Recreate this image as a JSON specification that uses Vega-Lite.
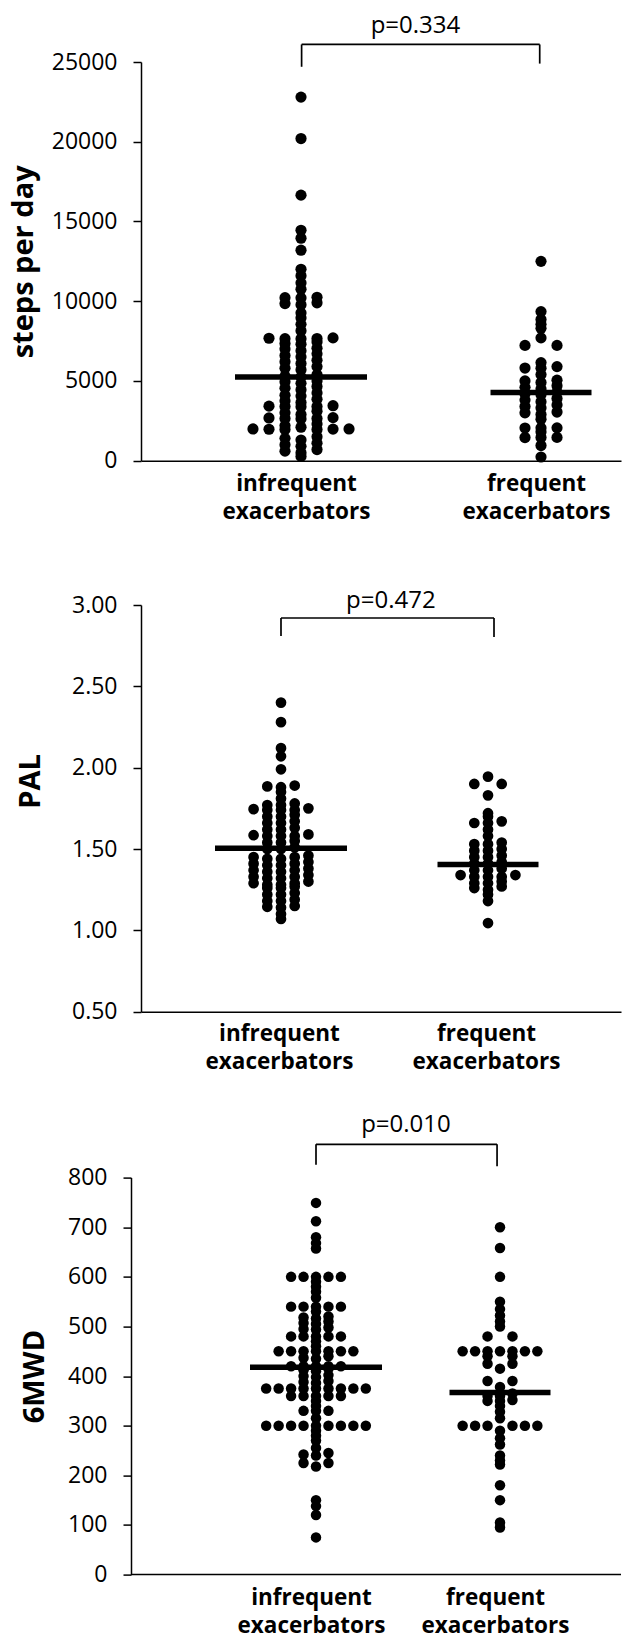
{
  "$schema": "https://vega.github.io/schema/vega-lite/v6.json",
  "padding": {"left": 9, "top": 14, "right": 0, "bottom": 0},
  "background": "white",
  "bounds": "flush",
  "spacing": 144,
  "datasets": {
    "steps": [
      {"group":"infrequent","value":22800},{"group":"infrequent","value":20200},{"group":"infrequent","value":16650},{"group":"infrequent","value":14450},{"group":"infrequent","value":13950},{"group":"infrequent","value":13200},{"group":"infrequent","value":12000},{"group":"infrequent","value":11600},{"group":"infrequent","value":11150},{"group":"infrequent","value":10750},
      {"group":"infrequent","value":10200},{"group":"infrequent","value":10220},{"group":"infrequent","value":10250},
      {"group":"infrequent","value":9780},{"group":"infrequent","value":9850},{"group":"infrequent","value":9900},
      {"group":"infrequent","value":9260},{"group":"infrequent","value":8950},{"group":"infrequent","value":8550},{"group":"infrequent","value":8150},
      {"group":"infrequent","value":7650},{"group":"infrequent","value":7650},{"group":"infrequent","value":7660},{"group":"infrequent","value":7680},{"group":"infrequent","value":7700},
      {"group":"infrequent","value":7300},{"group":"infrequent","value":7350},{"group":"infrequent","value":7450},
      {"group":"infrequent","value":6900},{"group":"infrequent","value":7000},{"group":"infrequent","value":7050},
      {"group":"infrequent","value":6500},{"group":"infrequent","value":6600},{"group":"infrequent","value":6700},
      {"group":"infrequent","value":6100},{"group":"infrequent","value":6200},{"group":"infrequent","value":6300},
      {"group":"infrequent","value":5700},{"group":"infrequent","value":5800},{"group":"infrequent","value":5900},
      {"group":"infrequent","value":5250},{"group":"infrequent","value":5300},{"group":"infrequent","value":5400},
      {"group":"infrequent","value":4850},{"group":"infrequent","value":4950},{"group":"infrequent","value":5000},
      {"group":"infrequent","value":4450},{"group":"infrequent","value":4550},{"group":"infrequent","value":4650},
      {"group":"infrequent","value":4050},{"group":"infrequent","value":4100},{"group":"infrequent","value":4250},
      {"group":"infrequent","value":3650},{"group":"infrequent","value":3750},{"group":"infrequent","value":3850},
      {"group":"infrequent","value":3380},{"group":"infrequent","value":3400},{"group":"infrequent","value":3400},{"group":"infrequent","value":3420},{"group":"infrequent","value":3450},
      {"group":"infrequent","value":2900},{"group":"infrequent","value":3000},{"group":"infrequent","value":3100},
      {"group":"infrequent","value":2620},{"group":"infrequent","value":2650},{"group":"infrequent","value":2650},{"group":"infrequent","value":2680},{"group":"infrequent","value":2700},
      {"group":"infrequent","value":2100},{"group":"infrequent","value":2200},{"group":"infrequent","value":2300},
      {"group":"infrequent","value":1950},{"group":"infrequent","value":1960},{"group":"infrequent","value":1970},{"group":"infrequent","value":1980},{"group":"infrequent","value":1990},{"group":"infrequent","value":1990},
      {"group":"infrequent","value":1300},{"group":"infrequent","value":1400},{"group":"infrequent","value":1500},
      {"group":"infrequent","value":900},{"group":"infrequent","value":1000},{"group":"infrequent","value":1100},
      {"group":"infrequent","value":500},{"group":"infrequent","value":600},{"group":"infrequent","value":700},
      {"group":"infrequent","value":270},
      {"group":"frequent","value":12500},{"group":"frequent","value":9350},{"group":"frequent","value":8850},{"group":"frequent","value":8550},{"group":"frequent","value":8300},{"group":"frequent","value":7700},
      {"group":"frequent","value":7230},{"group":"frequent","value":7230},{"group":"frequent","value":6150},
      {"group":"frequent","value":5800},{"group":"frequent","value":5810},{"group":"frequent","value":5900},{"group":"frequent","value":5400},
      {"group":"frequent","value":4900},{"group":"frequent","value":5000},{"group":"frequent","value":5050},
      {"group":"frequent","value":4500},{"group":"frequent","value":4600},{"group":"frequent","value":4700},
      {"group":"frequent","value":4150},{"group":"frequent","value":4200},{"group":"frequent","value":4300},
      {"group":"frequent","value":3700},{"group":"frequent","value":3800},{"group":"frequent","value":3900},
      {"group":"frequent","value":3300},{"group":"frequent","value":3400},{"group":"frequent","value":3500},
      {"group":"frequent","value":2900},{"group":"frequent","value":3000},{"group":"frequent","value":3050},
      {"group":"frequent","value":2600},
      {"group":"frequent","value":2050},{"group":"frequent","value":2050},{"group":"frequent","value":2060},
      {"group":"frequent","value":1800},
      {"group":"frequent","value":1450},{"group":"frequent","value":1450},{"group":"frequent","value":1460},
      {"group":"frequent","value":950},{"group":"frequent","value":230}
    ],
    "pal": [
      {"group":"infrequent","value":2.40},{"group":"infrequent","value":2.28},{"group":"infrequent","value":2.12},{"group":"infrequent","value":2.07},{"group":"infrequent","value":1.99},
      {"group":"infrequent","value":1.88},{"group":"infrequent","value":1.885},{"group":"infrequent","value":1.89},
      {"group":"infrequent","value":1.85},{"group":"infrequent","value":1.81},
      {"group":"infrequent","value":1.77},{"group":"infrequent","value":1.77},{"group":"infrequent","value":1.78},
      {"group":"infrequent","value":1.74},{"group":"infrequent","value":1.74},{"group":"infrequent","value":1.74},{"group":"infrequent","value":1.745},{"group":"infrequent","value":1.75},
      {"group":"infrequent","value":1.70},{"group":"infrequent","value":1.70},{"group":"infrequent","value":1.71},
      {"group":"infrequent","value":1.66},{"group":"infrequent","value":1.66},{"group":"infrequent","value":1.67},
      {"group":"infrequent","value":1.62},{"group":"infrequent","value":1.62},{"group":"infrequent","value":1.63},
      {"group":"infrequent","value":1.58},{"group":"infrequent","value":1.58},{"group":"infrequent","value":1.58},{"group":"infrequent","value":1.585},{"group":"infrequent","value":1.59},
      {"group":"infrequent","value":1.54},{"group":"infrequent","value":1.54},{"group":"infrequent","value":1.55},
      {"group":"infrequent","value":1.50},{"group":"infrequent","value":1.50},{"group":"infrequent","value":1.51},
      {"group":"infrequent","value":1.44},{"group":"infrequent","value":1.44},{"group":"infrequent","value":1.45},{"group":"infrequent","value":1.45},{"group":"infrequent","value":1.46},
      {"group":"infrequent","value":1.40},{"group":"infrequent","value":1.40},{"group":"infrequent","value":1.41},{"group":"infrequent","value":1.41},{"group":"infrequent","value":1.42},
      {"group":"infrequent","value":1.36},{"group":"infrequent","value":1.36},{"group":"infrequent","value":1.37},{"group":"infrequent","value":1.37},{"group":"infrequent","value":1.38},
      {"group":"infrequent","value":1.32},{"group":"infrequent","value":1.32},{"group":"infrequent","value":1.33},{"group":"infrequent","value":1.33},{"group":"infrequent","value":1.34},
      {"group":"infrequent","value":1.28},{"group":"infrequent","value":1.28},{"group":"infrequent","value":1.29},{"group":"infrequent","value":1.29},{"group":"infrequent","value":1.30},
      {"group":"infrequent","value":1.26},{"group":"infrequent","value":1.26},{"group":"infrequent","value":1.27},
      {"group":"infrequent","value":1.22},{"group":"infrequent","value":1.22},{"group":"infrequent","value":1.23},
      {"group":"infrequent","value":1.18},{"group":"infrequent","value":1.18},{"group":"infrequent","value":1.19},
      {"group":"infrequent","value":1.14},{"group":"infrequent","value":1.145},{"group":"infrequent","value":1.15},
      {"group":"infrequent","value":1.10},{"group":"infrequent","value":1.07},
      {"group":"frequent","value":1.945},{"group":"frequent","value":1.90},{"group":"frequent","value":1.90},{"group":"frequent","value":1.83},
      {"group":"frequent","value":1.72},{"group":"frequent","value":1.70},
      {"group":"frequent","value":1.66},{"group":"frequent","value":1.66},{"group":"frequent","value":1.67},
      {"group":"frequent","value":1.62},{"group":"frequent","value":1.58},
      {"group":"frequent","value":1.53},{"group":"frequent","value":1.53},{"group":"frequent","value":1.54},
      {"group":"frequent","value":1.49},{"group":"frequent","value":1.49},{"group":"frequent","value":1.50},
      {"group":"frequent","value":1.45},{"group":"frequent","value":1.45},{"group":"frequent","value":1.46},
      {"group":"frequent","value":1.41},{"group":"frequent","value":1.41},{"group":"frequent","value":1.42},
      {"group":"frequent","value":1.37},{"group":"frequent","value":1.37},{"group":"frequent","value":1.38},
      {"group":"frequent","value":1.33},{"group":"frequent","value":1.33},{"group":"frequent","value":1.33},{"group":"frequent","value":1.34},{"group":"frequent","value":1.34},
      {"group":"frequent","value":1.29},{"group":"frequent","value":1.29},{"group":"frequent","value":1.30},
      {"group":"frequent","value":1.25},{"group":"frequent","value":1.26},{"group":"frequent","value":1.27},
      {"group":"frequent","value":1.22},{"group":"frequent","value":1.18},{"group":"frequent","value":1.045}
    ],
    "mwd": [
      {"group":"infrequent","value":749},{"group":"infrequent","value":712},{"group":"infrequent","value":680},{"group":"infrequent","value":668},{"group":"infrequent","value":657},
      {"group":"infrequent","value":600},{"group":"infrequent","value":600},{"group":"infrequent","value":600},{"group":"infrequent","value":600},{"group":"infrequent","value":600},
      {"group":"infrequent","value":590},{"group":"infrequent","value":580},{"group":"infrequent","value":570},{"group":"infrequent","value":558},
      {"group":"infrequent","value":540},{"group":"infrequent","value":540},{"group":"infrequent","value":540},{"group":"infrequent","value":540},{"group":"infrequent","value":540},
      {"group":"infrequent","value":530},
      {"group":"infrequent","value":516},{"group":"infrequent","value":518},{"group":"infrequent","value":520},
      {"group":"infrequent","value":505},{"group":"infrequent","value":507},{"group":"infrequent","value":510},
      {"group":"infrequent","value":494},{"group":"infrequent","value":495},{"group":"infrequent","value":498},
      {"group":"infrequent","value":480},{"group":"infrequent","value":480},{"group":"infrequent","value":480},{"group":"infrequent","value":480},{"group":"infrequent","value":480},
      {"group":"infrequent","value":470},{"group":"infrequent","value":460},
      {"group":"infrequent","value":450},{"group":"infrequent","value":450},{"group":"infrequent","value":450},{"group":"infrequent","value":450},{"group":"infrequent","value":450},{"group":"infrequent","value":450},{"group":"infrequent","value":450},
      {"group":"infrequent","value":435},{"group":"infrequent","value":437},{"group":"infrequent","value":440},
      {"group":"infrequent","value":420},{"group":"infrequent","value":420},{"group":"infrequent","value":420},{"group":"infrequent","value":420},{"group":"infrequent","value":420},
      {"group":"infrequent","value":410},{"group":"infrequent","value":412},{"group":"infrequent","value":415},
      {"group":"infrequent","value":398},{"group":"infrequent","value":400},{"group":"infrequent","value":402},
      {"group":"infrequent","value":386},{"group":"infrequent","value":388},{"group":"infrequent","value":390},
      {"group":"infrequent","value":375},{"group":"infrequent","value":375},{"group":"infrequent","value":375},{"group":"infrequent","value":375},{"group":"infrequent","value":375},{"group":"infrequent","value":375},{"group":"infrequent","value":375},{"group":"infrequent","value":375},{"group":"infrequent","value":375},
      {"group":"infrequent","value":360},{"group":"infrequent","value":360},{"group":"infrequent","value":360},{"group":"infrequent","value":360},{"group":"infrequent","value":360},
      {"group":"infrequent","value":350},{"group":"infrequent","value":340},
      {"group":"infrequent","value":330},{"group":"infrequent","value":330},{"group":"infrequent","value":330},
      {"group":"infrequent","value":315},
      {"group":"infrequent","value":300},{"group":"infrequent","value":300},{"group":"infrequent","value":300},{"group":"infrequent","value":300},{"group":"infrequent","value":300},{"group":"infrequent","value":300},{"group":"infrequent","value":300},{"group":"infrequent","value":300},{"group":"infrequent","value":300},
      {"group":"infrequent","value":290},{"group":"infrequent","value":280},{"group":"infrequent","value":270},{"group":"infrequent","value":255},
      {"group":"infrequent","value":240},{"group":"infrequent","value":242},{"group":"infrequent","value":245},
      {"group":"infrequent","value":218},{"group":"infrequent","value":225},{"group":"infrequent","value":225},
      {"group":"infrequent","value":150},{"group":"infrequent","value":138},{"group":"infrequent","value":120},{"group":"infrequent","value":75},
      {"group":"frequent","value":700},{"group":"frequent","value":658},{"group":"frequent","value":600},
      {"group":"frequent","value":550},{"group":"frequent","value":535},{"group":"frequent","value":522},{"group":"frequent","value":510},{"group":"frequent","value":500},
      {"group":"frequent","value":480},{"group":"frequent","value":480},
      {"group":"frequent","value":450},{"group":"frequent","value":450},{"group":"frequent","value":450},{"group":"frequent","value":450},{"group":"frequent","value":450},{"group":"frequent","value":450},{"group":"frequent","value":450},
      {"group":"frequent","value":440},{"group":"frequent","value":440},{"group":"frequent","value":425},{"group":"frequent","value":425},
      {"group":"frequent","value":415},
      {"group":"frequent","value":390},{"group":"frequent","value":390},{"group":"frequent","value":378},
      {"group":"frequent","value":360},{"group":"frequent","value":360},{"group":"frequent","value":365},
      {"group":"frequent","value":350},{"group":"frequent","value":350},{"group":"frequent","value":352},
      {"group":"frequent","value":340},{"group":"frequent","value":328},{"group":"frequent","value":315},
      {"group":"frequent","value":300},{"group":"frequent","value":300},{"group":"frequent","value":300},{"group":"frequent","value":300},{"group":"frequent","value":300},{"group":"frequent","value":300},
      {"group":"frequent","value":290},{"group":"frequent","value":275},{"group":"frequent","value":262},{"group":"frequent","value":240},{"group":"frequent","value":230},{"group":"frequent","value":222},
      {"group":"frequent","value":180},{"group":"frequent","value":150},{"group":"frequent","value":105},{"group":"frequent","value":95}
    ]
  },
  "vconcat": [
    {
      "width": 480,
      "height": 398.7,
      "layer": [
        {
          "data": {"name": "steps"},
          "transform": [
            {"calculate": "floor(datum.value / 400 + 0.000001)", "as": "bin"},
            {"window": [{"op": "row_number", "as": "r"}], "groupby": ["group", "bin"], "sort": [{"field": "value", "order": "ascending"}]},
            {"joinaggregate": [{"op": "count", "as": "n"}], "groupby": ["group", "bin"]},
            {"calculate": "datum.n % 2 == 1 ? (datum.r == 1 ? 0 : (datum.r % 2 == 0 ? -datum.r / 2 : (datum.r - 1) / 2)) : (datum.r % 2 == 1 ? -(datum.r + 1) / 2 : datum.r / 2)", "as": "col"},
            {"calculate": "(datum.group == 'infrequent' ? 1 : 2) + datum.col * 0.0667", "as": "xpos"}
          ],
          "mark": {"type": "circle", "size": 125, "color": "black", "opacity": 1},
          "encoding": {
            "x": {"field": "xpos", "type": "quantitative", "scale": {"domain": [0.3333, 2.3333], "nice": false, "zero": false},
              "axis": {"values": [1, 2], "ticks": false, "tickSize": 0, "title": null, "labelExpr": "datum.value == 1 ? ['infrequent', 'exacerbators'] : ['frequent', 'exacerbators']", "labelFontWeight": "bold", "labelFontSize": 22.5, "labelLineHeight": 28, "labelPadding": 12, "labelOffset": -5, "labelFlush": false, "labelOverlap": false, "labelBound": false}},
            "y": {"field": "value", "type": "quantitative", "scale": {"domain": [0, 25000], "nice": false},
              "axis": {"title": "steps per day", "values": [0, 5000, 10000, 15000, 20000, 25000], "format": "d", "titlePadding": 13}}
          }
        },
        {
          "data": {"values": [{"group": "infrequent", "median": 5250}, {"group": "frequent", "median": 4280}]},
          "transform": [{"calculate": "datum.group == 'infrequent' ? 1 : 2", "as": "gx"}],
          "mark": {"type": "tick", "orient": "horizontal", "thickness": 5.5, "color": "black", "opacity": 1},
          "encoding": {
            "x": {"field": "gx", "type": "quantitative"},
            "y": {"field": "median", "type": "quantitative"},
            "size": {"field": "group", "type": "ordinal", "scale": {"domain": ["infrequent", "frequent"], "range": [132, 101]}, "legend": null}
          }
        },
        {
          "data": {"values": [{}]},
          "mark": {"type": "rule", "color": "black", "strokeWidth": 1.7},
          "encoding": {"x": {"datum": 1.0025}, "x2": {"datum": 1.9946}, "y": {"datum": 26100}}
        },
        {
          "data": {"values": [{}]},
          "mark": {"type": "rule", "color": "black", "strokeWidth": 1.7},
          "encoding": {"x": {"datum": 1.0025}, "y": {"datum": 26100}, "y2": {"datum": 24700}}
        },
        {
          "data": {"values": [{}]},
          "mark": {"type": "rule", "color": "black", "strokeWidth": 1.7},
          "encoding": {"x": {"datum": 1.9946}, "y": {"datum": 26100}, "y2": {"datum": 24900}}
        },
        {
          "data": {"values": [{}]},
          "mark": {"type": "text", "text": "p=0.334", "font": "Open Sans", "fontSize": 24, "align": "center", "baseline": "alphabetic", "color": "black"},
          "encoding": {"x": {"datum": 1.477}, "y": {"datum": 26790}}
        }
      ]
    },
    {
      "bounds": "flush",
      "spacing": 165.6,
      "vconcat": [
        {
          "width": 480,
          "height": 406.7,
          "layer": [
            {
              "data": {"name": "pal"},
              "transform": [
                {"calculate": "floor(datum.value / 0.04 + 0.000001)", "as": "bin"},
                {"window": [{"op": "row_number", "as": "r"}], "groupby": ["group", "bin"], "sort": [{"field": "value", "order": "ascending"}]},
                {"joinaggregate": [{"op": "count", "as": "n"}], "groupby": ["group", "bin"]},
                {"calculate": "datum.n % 2 == 1 ? (datum.r == 1 ? 0 : (datum.r % 2 == 0 ? -datum.r / 2 : (datum.r - 1) / 2)) : (datum.r % 2 == 1 ? -(datum.r + 1) / 2 : datum.r / 2)", "as": "col"},
                {"calculate": "(datum.group == 'infrequent' ? 1 : 2) + datum.col * 0.0662", "as": "xpos"}
              ],
              "mark": {"type": "circle", "size": 115, "color": "black", "opacity": 1},
              "encoding": {
                "x": {"field": "xpos", "type": "quantitative", "scale": {"domain": [0.3237, 2.6425], "nice": false, "zero": false},
                  "axis": {"values": [1, 2], "ticks": false, "tickSize": 0, "title": null, "labelExpr": "datum.value == 1 ? ['infrequent', 'exacerbators'] : ['frequent', 'exacerbators']", "labelFontWeight": "bold", "labelFontSize": 22.5, "labelLineHeight": 28, "labelPadding": 11, "labelOffset": -2, "labelFlush": false, "labelOverlap": false, "labelBound": false}},
                "y": {"field": "value", "type": "quantitative", "scale": {"domain": [0.5, 3.0], "nice": false, "zero": false},
                  "axis": {"title": "PAL", "values": [0.5, 1, 1.5, 2, 2.5, 3], "format": ".2f", "titlePadding": 26, "titleY": 176}}
              }
            },
            {
              "data": {"values": [{"group": "infrequent", "median": 1.505}, {"group": "frequent", "median": 1.405}]},
              "transform": [{"calculate": "datum.group == 'infrequent' ? 1 : 2", "as": "gx"}],
              "mark": {"type": "tick", "orient": "horizontal", "thickness": 5.5, "color": "black", "opacity": 1},
              "encoding": {
                "x": {"field": "gx", "type": "quantitative"},
                "y": {"field": "median", "type": "quantitative"},
                "size": {"field": "group", "type": "ordinal", "scale": {"domain": ["infrequent", "frequent"], "range": [102, 87]}, "legend": null}
              }
            },
            {
              "data": {"values": [{}]},
              "mark": {"type": "rule", "color": "black", "strokeWidth": 1.7},
              "encoding": {"x": {"datum": 1.0}, "x2": {"datum": 2.029}, "y": {"datum": 2.92}}
            },
            {
              "data": {"values": [{}]},
              "mark": {"type": "rule", "color": "black", "strokeWidth": 1.7},
              "encoding": {"x": {"datum": 1.0}, "y": {"datum": 2.92}, "y2": {"datum": 2.809}}
            },
            {
              "data": {"values": [{}]},
              "mark": {"type": "rule", "color": "black", "strokeWidth": 1.7},
              "encoding": {"x": {"datum": 2.029}, "y": {"datum": 2.92}, "y2": {"datum": 2.803}}
            },
            {
              "data": {"values": [{}]},
              "mark": {"type": "text", "text": "p=0.472", "font": "Open Sans", "fontSize": 24, "align": "center", "baseline": "alphabetic", "color": "black"},
              "encoding": {"x": {"datum": 1.531}, "y": {"datum": 2.982}}
            }
          ]
        },
        {
          "width": 480,
          "height": 397,
          "layer": [
            {
              "data": {"name": "mwd"},
              "transform": [
                {"calculate": "floor(datum.value / 12 + 0.000001)", "as": "bin"},
                {"window": [{"op": "row_number", "as": "r"}], "groupby": ["group", "bin"], "sort": [{"field": "value", "order": "ascending"}]},
                {"joinaggregate": [{"op": "count", "as": "n"}], "groupby": ["group", "bin"]},
                {"calculate": "datum.n % 2 == 1 ? (datum.r == 1 ? 0 : (datum.r % 2 == 0 ? -datum.r / 2 : (datum.r - 1) / 2)) : (datum.r % 2 == 1 ? -(datum.r + 1) / 2 : datum.r / 2)", "as": "col"},
                {"calculate": "(datum.group == 'infrequent' ? 1 : 2) + datum.col * 0.0677", "as": "xpos"}
              ],
              "mark": {"type": "circle", "size": 110, "color": "black", "opacity": 1},
              "encoding": {
                "x": {"field": "xpos", "type": "quantitative", "scale": {"domain": [0.0489, 2.6576], "nice": false, "zero": false},
                  "axis": {"values": [1, 2], "ticks": false, "tickSize": 0, "domain": false, "title": null, "labelExpr": "datum.value == 1 ? ['infrequent', 'exacerbators'] : ['frequent', 'exacerbators']", "labelFontWeight": "bold", "labelFontSize": 22.5, "labelLineHeight": 28, "labelPadding": 12, "labelOffset": -5, "labelFlush": false, "labelOverlap": false, "labelBound": false}},
                "y": {"field": "value", "type": "quantitative", "scale": {"domain": [0, 800], "nice": false},
                  "axis": {"title": "6MWD", "values": [0, 100, 200, 300, 400, 500, 600, 700, 800], "format": "d", "offset": 10, "titlePadding": 18}}
              }
            },
            {
              "data": {"values": [{"group": "infrequent", "median": 418}, {"group": "frequent", "median": 367}]},
              "transform": [{"calculate": "datum.group == 'infrequent' ? 1 : 2", "as": "gx"}],
              "mark": {"type": "tick", "orient": "horizontal", "thickness": 5.5, "color": "black", "opacity": 1},
              "encoding": {
                "x": {"field": "gx", "type": "quantitative"},
                "y": {"field": "median", "type": "quantitative"},
                "size": {"field": "group", "type": "ordinal", "scale": {"domain": ["infrequent", "frequent"], "range": [128, 103]}, "legend": null}
              }
            },
            {
              "data": {"values": [{}]},
              "mark": {"type": "rule", "color": "black", "strokeWidth": 1.5},
              "encoding": {"x": {"datum": -0.0054}, "x2": {"datum": 2.6576}, "y": {"datum": 0}}
            },
            {
              "data": {"values": [{}]},
              "mark": {"type": "rule", "color": "black", "strokeWidth": 1.7},
              "encoding": {"x": {"datum": 1.0}, "x2": {"datum": 1.984}, "y": {"datum": 867}}
            },
            {
              "data": {"values": [{}]},
              "mark": {"type": "rule", "color": "black", "strokeWidth": 1.7},
              "encoding": {"x": {"datum": 1.0}, "y": {"datum": 867}, "y2": {"datum": 826}}
            },
            {
              "data": {"values": [{}]},
              "mark": {"type": "rule", "color": "black", "strokeWidth": 1.7},
              "encoding": {"x": {"datum": 1.984}, "y": {"datum": 867}, "y2": {"datum": 823}}
            },
            {
              "data": {"values": [{}]},
              "mark": {"type": "text", "text": "p=0.010", "font": "Open Sans", "fontSize": 24, "align": "center", "baseline": "alphabetic", "color": "black"},
              "encoding": {"x": {"datum": 1.489}, "y": {"datum": 891.5}}
            }
          ]
        }
      ]
    }
  ],
  "config": {
    "font": "Open Sans",
    "view": {"stroke": null},
    "axis": {
      "grid": false,
      "domainColor": "#000000",
      "domainWidth": 1.5,
      "tickColor": "#000000",
      "tickWidth": 1.5,
      "tickSize": 8,
      "labelColor": "#000000",
      "labelFont": "Open Sans",
      "labelFontSize": 23,
      "labelPadding": 16,
      "titleColor": "#000000",
      "titleFont": "Open Sans",
      "titleFontSize": 29,
      "titleFontWeight": "bold"
    }
  }
}
